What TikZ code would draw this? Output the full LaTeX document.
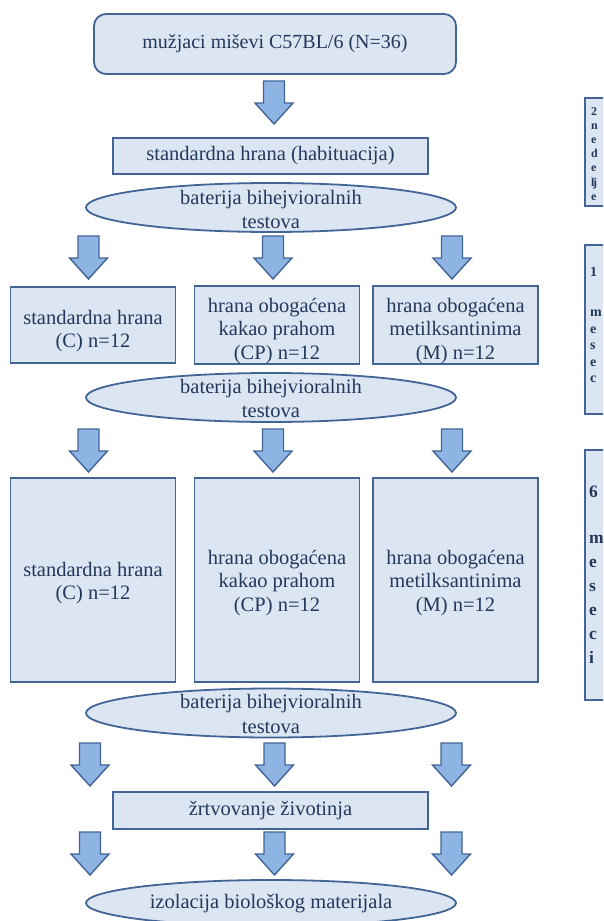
\documentclass[tikz,border=0pt]{standalone}
\usepackage{fontspec}
\setmainfont{Liberation Serif}
\usetikzlibrary{shapes.geometric}
\definecolor{fillc}{RGB}{220,230,242}
\definecolor{bordc}{RGB}{66,101,150}
\definecolor{arrfill}{RGB}{141,180,227}
\definecolor{txtc}{RGB}{36,56,92}
\newcommand{\lowstrut}{\rule{0pt}{26pt}}
\newcommand{\midstrut}{\rule{0pt}{20pt}}
\tikzset{
  box/.style={draw=bordc, line width=1.8pt, fill=fillc, text=txtc, inner sep=0pt, align=center,
    font=\fontsize{20.5}{24.5}\selectfont},
  grp/.style={box, minimum width=165pt, font=\fontsize{20.5}{23.5}\selectfont},
  ell/.style={ellipse, draw=bordc, line width=1.8pt, fill=fillc, inner sep=0pt,
    minimum width=370pt, minimum height=49pt},
  elltext/.style={text=txtc, align=center, inner sep=0pt, font=\fontsize{20.5}{24.5}\selectfont},
  side/.style={draw=bordc, line width=1.8pt, fill=fillc},
  sidetext/.style={text=txtc, align=left, inner sep=0pt, anchor=north west},
  downarr/.pic={\draw[draw=bordc, line width=1.4pt, fill=arrfill, line join=miter]
      (-10.5,0) -- (10.5,0) -- (10.5,22) -- (19,22) -- (0,43) -- (-19,22) -- (-10.5,22) -- cycle;}
}
\begin{document}
\begin{tikzpicture}[x=1pt,y=-1pt]
\useasboundingbox (0,0) rectangle (603,921);
\clip (0,0) rectangle (603,921);
\fill[white] (0,0) rectangle (603,921);

% top
\node[box, rounded corners=12pt, minimum width=362pt, minimum height=60pt,
  font=\fontsize{20}{24}\selectfont] (top) at (275,44) {mužjaci miševi C57BL/6 (N=36)};
\pic at (274,81) {downarr};
\node[box, minimum width=315pt, minimum height=36pt] (hab) at (270.5,156) {standardna hrana (habituacija)};
\node[ell] (e1) at (271,207.5) {};
\node[elltext] (e1t) at (271,209.5) {baterija bihejvioralnih\\testova};

% row 2 arrows
\pic at (88.5,236) {downarr};
\pic at (273,236) {downarr};
\pic at (452,236) {downarr};

\node[grp, minimum height=76pt] (c1) at (93,325) {\lowstrut standardna hrana\\(C) n=12};
\node[grp, minimum height=76pt] (cp1) at (277,325) {\lowstrut hrana obogaćena\\kakao prahom\\(CP) n=12};
\node[grp, minimum height=76pt] (m1) at (455.5,325) {\lowstrut hrana obogaćena\\metilksantinima\\(M) n=12};

\node[ell] (e2) at (271,397.5) {};
\node[elltext] (e2t) at (271,398.5) {baterija bihejvioralnih\\testova};

% row 3 arrows
\pic at (88.5,429) {downarr};
\pic at (273,429) {downarr};
\pic at (452,429) {downarr};

\node[grp, minimum height=204pt] (c2) at (93,580) {\midstrut standardna hrana\\(C) n=12};
\node[grp, minimum height=204pt] (cp2) at (277,580) {\midstrut hrana obogaćena\\kakao prahom\\(CP) n=12};
\node[grp, minimum height=204pt] (m2) at (455.5,580) {\midstrut hrana obogaćena\\metilksantinima\\(M) n=12};

\node[ell] (e3) at (271,713) {};
\node[elltext] (e3t) at (271,714) {baterija bihejvioralnih\\testova};

% row 4 arrows
\pic at (90,743) {downarr};
\pic at (274.5,743) {downarr};
\pic at (451.5,743) {downarr};

\node[box, minimum width=315pt, minimum height=37pt] (zrt) at (270.5,810.5) {žrtvovanje životinja};

% row 5 arrows
\pic at (90,832) {downarr};
\pic at (274.5,832) {downarr};
\pic at (451.5,832) {downarr};

\node[ell, minimum height=46pt] (e4) at (271,903) {};
\node[elltext] (e4t) at (271,904) {izolacija biološkog materijala};

% side boxes
\draw[side] (585,98) rectangle (640,206);
\node[sidetext, font=\bfseries\fontsize{12}{14.2}\selectfont] (s1) at (591,107)
  {2\\n\\e\\d\\e\\l\kern-1.5pt j\\e};
\draw[side] (585,245) rectangle (640,414);
\node[sidetext, font=\bfseries\fontsize{14}{16.5}\selectfont] (s2) at (590,267)
  {1\\[24pt]m\\e\\s\\e\\c};
\draw[side] (585,450) rectangle (640,700);
\node[sidetext, font=\bfseries\fontsize{17.5}{24}\selectfont] (s3) at (589,486)
  {6\\[22pt]m\\e\\s\\e\\c\\i};
\end{tikzpicture}
\end{document}
